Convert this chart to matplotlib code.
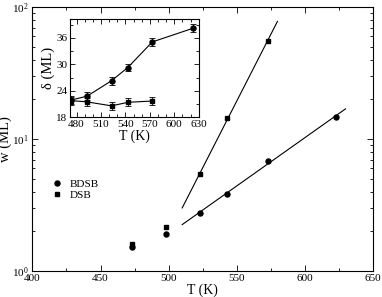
import numpy as np
import matplotlib
matplotlib.use("Agg")
import matplotlib.pyplot as plt
from matplotlib.ticker import MultipleLocator, AutoMinorLocator, LogLocator

plt.rcParams['font.family'] = ['Liberation Serif', 'DejaVu Serif']
plt.rcParams['mathtext.fontset'] = 'stix'

# main panel: film width vs temperature (log scale)
T_bdsb = [473, 498, 523, 543, 573, 623]
w_bdsb = [1.53, 1.90, 2.76, 3.85, 6.85, 14.7]
T_dsb = [473, 498, 523, 543, 573]
w_dsb = [1.59, 2.14, 5.4, 14.4, 55.6]

# fit ranges (exponential fits to the high-T points)
fit_bdsb_range = [510, 630]
fit_dsb_range = [510, 580]

# inset: delta vs T
Ti_bdsb = [473, 493, 523, 543, 573, 623]
d_bdsb = [21.9, 22.8, 26.3, 29.3, 35.1, 38.2]
Ti_dsb = [473, 493, 523, 543, 573]
d_dsb = [21.8, 21.5, 20.6, 21.4, 21.7]
d_err = 0.9

fig = plt.figure(figsize=(3.82, 2.97), dpi=100)
ax = fig.add_axes([0.085, 0.0875, 0.8907, 0.8885])

ax.semilogy(T_bdsb, w_bdsb, 'o', color='black', ms=3.6, ls='none', label='BDSB')
ax.semilogy(T_dsb, w_dsb, 's', color='black', ms=3.2, ls='none', label='DSB')

# straight lines in log space through the points with T > 510
for T, w, rng in [(T_bdsb, w_bdsb, fit_bdsb_range), (T_dsb, w_dsb, fit_dsb_range)]:
    T = np.array(T)
    w = np.array(w)
    m = T > 510
    p = np.polyfit(T[m], np.log10(w[m]), 1)
    xx = np.array(rng, dtype=float)
    ax.plot(xx, 10 ** np.polyval(p, xx), color='black', lw=0.8)

ax.set_xlim(400, 650)
ax.set_ylim(1, 100)
ax.xaxis.set_major_locator(MultipleLocator(50))
ax.xaxis.set_minor_locator(MultipleLocator(25))
ax.yaxis.set_minor_locator(LogLocator(base=10, subs=np.arange(2, 10)))
ax.tick_params(which='both', direction='in', top=True, right=True, labelsize=8, pad=2.5)
ax.tick_params(which='major', length=4, width=0.6)
ax.tick_params(which='minor', length=2.5, width=0.6)
ax.yaxis.set_minor_formatter(plt.NullFormatter())
for s in ax.spines.values():
    s.set_linewidth(0.8)
ax.set_xlabel('T (K)', fontsize=10, labelpad=0)
ax.set_ylabel('w (ML)', fontsize=10.5, labelpad=0)

ax.legend(loc='upper left', bbox_to_anchor=(0.04, 0.37), frameon=False, fontsize=8,
          handlelength=1.0, handletextpad=0.6, labelspacing=0.1, borderpad=0)

# inset
ins = fig.add_axes([0.1832, 0.605, 0.337, 0.331])
ins.errorbar(Ti_bdsb, d_bdsb, yerr=d_err, fmt='o-', color='black', ms=3.6, lw=0.8,
             capsize=2, elinewidth=0.6, capthick=0.6)
ins.errorbar(Ti_dsb, d_dsb, yerr=d_err, fmt='s-', color='black', ms=3.2, lw=0.8,
             capsize=2, elinewidth=0.6, capthick=0.6)
ins.set_xlim(472, 630)
ins.set_ylim(18, 40.3)
ins.xaxis.set_major_locator(MultipleLocator(30))
ins.xaxis.set_minor_locator(AutoMinorLocator(3))
ins.yaxis.set_major_locator(MultipleLocator(6))
ins.yaxis.set_minor_locator(AutoMinorLocator(2))
ins.tick_params(which='both', direction='in', top=True, right=True, labelsize=8, pad=2)
ins.tick_params(which='major', length=3.5, width=0.6)
ins.tick_params(which='minor', length=2, width=0.6)
for s in ins.spines.values():
    s.set_linewidth(0.8)
ins.set_xlabel('T (K)', fontsize=10, labelpad=0)
ins.set_ylabel('δ (ML)', fontsize=10.5, labelpad=1)

fig.savefig('out.png', dpi=100)
